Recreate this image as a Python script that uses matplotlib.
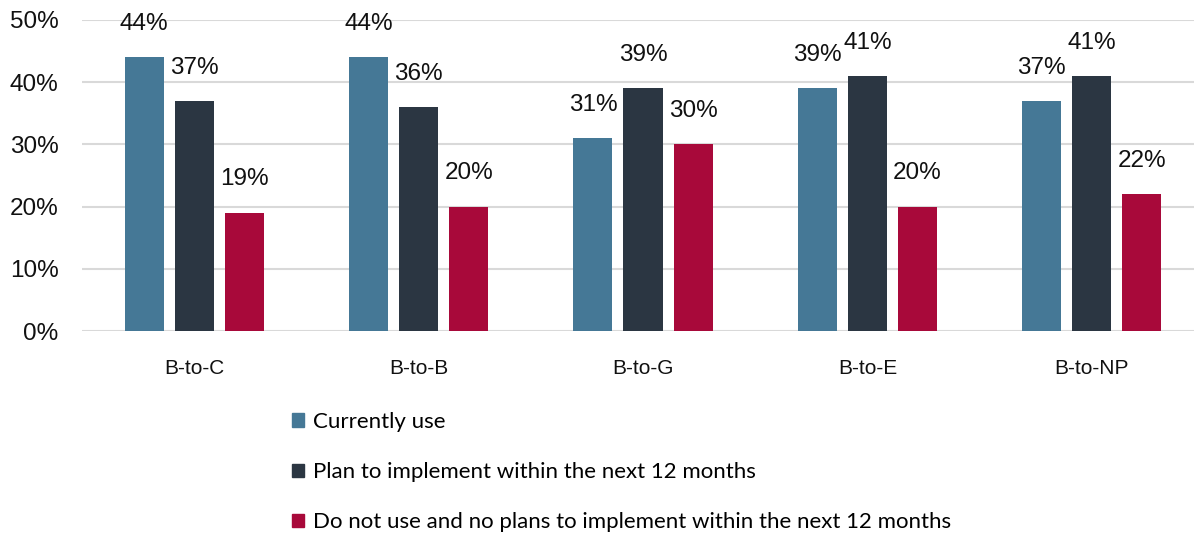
import matplotlib
matplotlib.use("Agg")
import matplotlib.pyplot as plt
from matplotlib.patches import Patch
import numpy as np

categories = ["B-to-C", "B-to-B", "B-to-G", "B-to-E", "B-to-NP"]
currently_use = [44, 44, 31, 39, 37]
plan_to_implement = [37, 36, 39, 41, 41]
no_plans = [19, 20, 30, 20, 22]
series_labels = [
    "Currently use",
    "Plan to implement within the next 12 months",
    "Do not use and no plans to implement within the next 12 months",
]
y_ticks = [0, 10, 20, 30, 40, 50]

colors = ["#457896", "#2b3642", "#a8093a"]
series = [currently_use, plan_to_implement, no_plans]

W, H, DPI = 1194, 533, 100
fig = plt.figure(figsize=(W / DPI, H / DPI), dpi=DPI)
left_px, right_px, top_px, bottom_px = 82, 1204, 20, 331
ax = fig.add_axes([left_px / W, 1 - bottom_px / H,
                   (right_px - left_px) / W, (bottom_px - top_px) / H])

x = np.arange(len(categories))
bar_w = 0.174
step = 0.223
label_font = "Liberation Sans"

for i, (vals, col) in enumerate(zip(series, colors)):
    pos = x + (i - 1) * step
    bars = ax.bar(pos, vals, width=bar_w, color=col, zorder=3,
                  edgecolor=col, linewidth=0)
    for b, v in zip(bars, vals):
        ax.annotate(f"{v}%", (b.get_x() + b.get_width() / 2, v),
                    xytext=(0, 24), textcoords="offset points",
                    ha="center", va="center", fontsize=17.5,
                    family=label_font, color="#111111")

ax.set_xlim(-0.5, len(categories) - 0.5)
ax.set_ylim(0, 50)
ax.set_yticks(y_ticks)
ax.set_yticklabels([f"{t}%" for t in y_ticks], family=label_font,
                   fontsize=17.5, color="#111111")
ax.set_xticks(x)
ax.set_xticklabels(categories, family=label_font, fontsize=15, color="#111111")
ax.tick_params(axis="y", length=0, pad=17)
ax.tick_params(axis="x", length=0, pad=20)
ax.grid(axis="y", color="#d9d9d9", linewidth=1.5, zorder=0)
for s in ax.spines.values():
    s.set_visible(False)
ax.set_axisbelow(True)

handles = [Patch(facecolor=c, edgecolor=c) for c in colors]
fig.legend(handles, series_labels, loc="upper left",
           bbox_to_anchor=(292 / W, 1 - 412 / H), frameon=False,
           prop={"family": "Lato", "size": 16},
           handlelength=0.56, handleheight=0.56, handletextpad=0.4,
           labelspacing=1.36, borderaxespad=0, borderpad=0)

fig.savefig("out.png", dpi=DPI)
